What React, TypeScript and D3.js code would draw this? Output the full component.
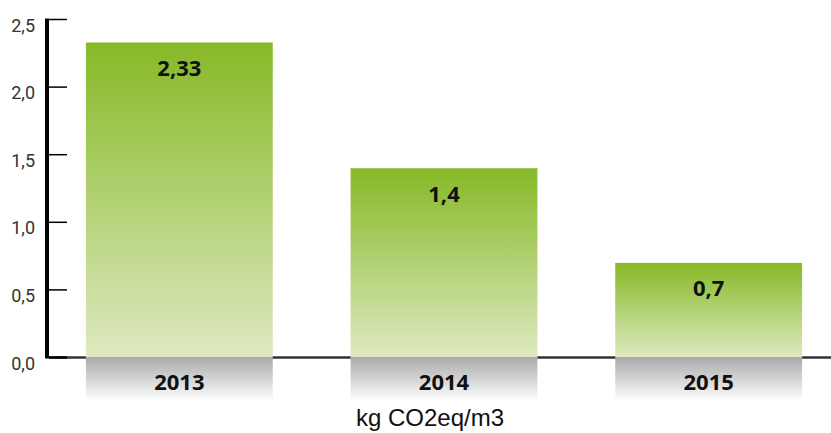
import * as d3 from "d3";
import React from "react";

const years = ["2013", "2014", "2015"];
const values = [2.33, 1.4, 0.7];
const valueLabels = ["2,33", "1,4", "0,7"];
const yTicks = [0, 0.5, 1, 1.5, 2, 2.5];
const unitLabel = "kg CO2eq/m3";

export default function App() {
  const width = 831;
  const height = 433;

  const x = d3
    .scaleBand<string>()
    .domain(years)
    .range([47, 841])
    .paddingInner(0.294)
    .paddingOuter(0.147);

  const y = d3.scaleLinear().domain([0, 2.5]).range([357.5, 19.5]);

  const fmt = (v: number) => d3.format(".1f")(v).replace(".", ",");

  return (
    <svg
      width={width}
      height={height}
      style={{ position: "absolute", left: 0, top: 0, display: "block" }}
    >
      <defs>
        <linearGradient id="barGrad" x1="0" y1="0" x2="0" y2="1">
          <stop offset="0%" stopColor="#86b927" />
          <stop offset="100%" stopColor="#dee9c0" />
        </linearGradient>
        <linearGradient id="catGrad" x1="0" y1="0" x2="0" y2="1">
          <stop offset="0%" stopColor="#a9a9a9" />
          <stop offset="100%" stopColor="#ffffff" />
        </linearGradient>
      </defs>

      {/* horizontal baseline */}
      <line x1={49} x2={831} y1={y(0)} y2={y(0)} stroke="#333" strokeWidth={2.5} />

      {/* bars */}
      {years.map((yr, i) => (
        <g key={yr}>
          <rect
            x={x(yr)}
            y={y(values[i])}
            width={x.bandwidth()}
            height={y(0) - y(values[i])}
            fill="url(#barGrad)"
          />
          <rect
            x={x(yr)}
            y={y(0) - 0.5}
            width={x.bandwidth()}
            height={44}
            fill="url(#catGrad)"
          />
          <text
            x={(x(yr) || 0) + x.bandwidth() / 2}
            y={y(values[i]) + 33.5}
            textAnchor="middle"
            fontFamily="Open Sans"
            fontWeight="bold"
            fontSize={22}
            fill="#111"
          >
            {valueLabels[i]}
          </text>
          <text
            x={(x(yr) || 0) + x.bandwidth() / 2}
            y={390}
            textAnchor="middle"
            fontFamily="Open Sans"
            fontWeight="bold"
            fontSize={22}
            fill="#111"
          >
            {yr}
          </text>
        </g>
      ))}

      {/* y axis */}
      <line x1={47} x2={47} y1={y(2.5) - 1} y2={y(0) + 1} stroke="#000" strokeWidth={4} />
      {yTicks.map((t) => (
        <g key={t}>
          <line x1={49} x2={67} y1={y(t)} y2={y(t)} stroke="#000" strokeWidth={t === 0 ? 2.5 : 1.5} />
          <text
            x={35}
            y={y(t) + 12}
            textAnchor="end"
            fontFamily="Roboto"
            fontSize={18}
            fill="#333"
          >
            {fmt(t)}
          </text>
        </g>
      ))}

      <text
        x={430}
        y={426}
        textAnchor="middle"
        fontFamily="Liberation Sans"
        fontSize={24}
        fill="#111"
      >
        {unitLabel}
      </text>
    </svg>
  );
}
